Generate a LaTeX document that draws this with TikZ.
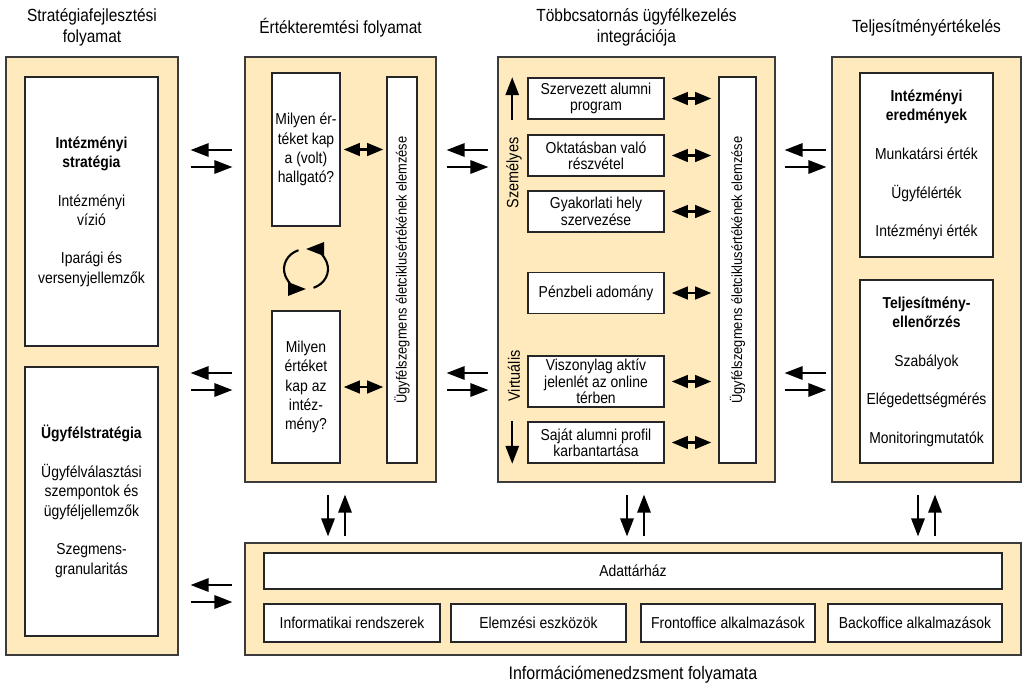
\documentclass[tikz,border=0pt]{standalone}
\usepackage{fontspec}
\setmainfont{Liberation Sans}[FakeStretch=0.88]
\usetikzlibrary{arrows.meta,positioning}

\definecolor{homok}{RGB}{254,234,188}
\definecolor{keret}{RGB}{60,60,60}

\begin{document}
\begin{tikzpicture}[x=0.03cm,y=-0.03cm,
    every node/.append style={font=\fontsize{13.5}{16.5}\selectfont},
    nagydoboz/.style={draw=keret,fill=homok,line width=1pt},
    doboz/.style={draw=black!85,fill=white,line width=1.3pt,align=center,inner sep=2pt},
    kisdoboz/.style={doboz,minimum width=4.08cm,minimum height=1.23cm,font=\fontsize{13.5}{14}\selectfont},
    alsodoboz/.style={doboz,minimum height=1.14cm},
    cim/.style={align=center,font=\fontsize{15}{18}\selectfont},
    pijl/.style={-{Triangle[length=5.4mm,width=4mm]},line width=1.8pt},
    kettos/.style={{Triangle[length=4.8mm,width=3.8mm]}-{Triangle[length=4.8mm,width=3.8mm]},line width=1.8pt}]
\useasboundingbox (0,0) rectangle (1027,687);

% a nagy keretek
\node[nagydoboz,minimum width=5.16cm,minimum height=17.94cm] (strat) at (92,356) {};
\node[nagydoboz,minimum width=5.73cm,minimum height=12.75cm] (ertek) at (340.5,269.5) {};
\node[nagydoboz,minimum width=8.31cm,minimum height=12.75cm] (csat) at (636.5,269.5) {};
\node[nagydoboz,minimum width=5.67cm,minimum height=12.75cm] (telj) at (926.5,269.5) {};
\node[nagydoboz,minimum width=23.28cm,minimum height=3.36cm] (info) at (633,599) {};

% cimek
\node[cim] (cimstrat) at ([yshift=0.87cm]strat.north) {Stratégiafejlesztési\\folyamat};
\node[cim] (cimertek) at ([yshift=0.87cm]ertek.north) {Értékteremtési folyamat};
\node[cim] (cimcsat) at ([yshift=0.87cm]csat.north) {Többcsatornás ügyfélkezelés\\integrációja};
\node[cim] (cimtelj) at ([yshift=0.87cm]telj.north) {Teljesítményértékelés};
\node[cim,font=\fontsize{15.5}{18}\selectfont] (ciminfo) at ([yshift=-0.56cm]info.south) {Információmenedzsment folyamata};

% strategia
\node[doboz,minimum width=3.99cm,minimum height=8.07cm] (intstrat) at (91.5,211.5)
  {\textbf{Intézményi}\\\textbf{stratégia}\\[16.5pt]Intézményi\\vízió\\[16.5pt]Iparági és\\versenyjellemzők};
\node[doboz,minimum width=3.99cm,minimum height=8.07cm] (ugyfstrat) at (91.5,501.5)
  {\textbf{Ügyfélstratégia}\\[16.5pt]Ügyfélválasztási\\szempontok és\\ügyféljellemzők\\[16.5pt]Szegmens-\\granularitás};

% ertekteremtes
\node[doboz,minimum width=2.04cm,minimum height=4.59cm] (hallg) at (306,149.5) {Milyen ér-\\téket kap\\a (volt)\\hallgató?};
\node[doboz,minimum width=2.04cm,minimum height=4.56cm] (intezm) at (306,387) {Milyen\\értéket\\kap az\\intéz-\\mény?};
\node[doboz,minimum width=0.9cm,minimum height=11.58cm,font=\fontsize{12.5}{15}\selectfont] (bar1) at (402,270)
  {\rotatebox{90}{Ügyfélszegmens életciklusértékének elemzése}};
\coordinate (kor) at (306,269);
\draw[pijl] ([shift={(110:0.66cm and 0.6cm)}]kor) arc[start angle=110,end angle=270,x radius=0.66cm,y radius=0.6cm];
\draw[pijl] ([shift={(-70:0.66cm and 0.6cm)}]kor) arc[start angle=-70,end angle=90,x radius=0.66cm,y radius=0.6cm];
\draw[kettos,shorten <=0.09cm,shorten >=0.09cm] (hallg.east) -- (hallg.east -| bar1.west);
\draw[kettos,shorten <=0.09cm,shorten >=0.09cm] (intezm.east) -- (intezm.east -| bar1.west);

% tobbcsatornas
\node[kisdoboz] (szerv) at (596,98.5) {Szervezett alumni\\program};
\node[kisdoboz] (oktat) at (596,155.5) {Oktatásban való\\részvétel};
\node[kisdoboz] (gyak) at (596,211.5) {Gyakorlati hely\\szervezése};
\node[kisdoboz] (penz) at (596,293) {Pénzbeli adomány};
\node[kisdoboz,minimum height=1.53cm] (virt) at (596,381.5) {Viszonylag aktív\\jelenlét az online\\térben};
\node[kisdoboz] (sajat) at (596,442.5) {Saját alumni profil\\karbantartása};
\node[doboz,minimum width=1.11cm,minimum height=11.58cm,font=\fontsize{12.5}{15}\selectfont] (bar2) at (737.5,270)
  {\rotatebox{90}{Ügyfélszegmens életciklusértékének elemzése}};
\node[rotate=90,font=\fontsize{14}{16}\selectfont] (szemelyes) at (514,173) {Személyes};
\node[rotate=90,font=\fontsize{14}{16}\selectfont] (virtualis) at (514,376) {Virtuális};
\draw[pijl] ([xshift=-0.45cm]szerv.south west) -- ([xshift=-0.45cm]szerv.north west);
\draw[pijl] ([xshift=-0.45cm]sajat.north west) -- ([xshift=-0.45cm]sajat.south west);
\foreach \n in {szerv,oktat,gyak,penz,virt,sajat}
  \draw[kettos,shorten <=0.21cm,shorten >=0.21cm] (\n.east) -- (\n.east -| bar2.west);

% teljesitmeny
\node[doboz,minimum width=3.99cm,minimum height=5.52cm] (eredm) at (926.5,165)
  {\textbf{Intézményi}\\\textbf{eredmények}\\[16.5pt]Munkatársi érték\\[16.5pt]Ügyfélérték\\[16.5pt]Intézményi érték};
\node[doboz,minimum width=3.99cm,minimum height=5.49cm] (ellen) at (926.5,371.5)
  {\textbf{Teljesítmény-}\\\textbf{ellenőrzés}\\[16.5pt]Szabályok\\[16.5pt]Elégedettségmérés\\[16.5pt]Monitoringmutatók};

% informaciomenedzsment
\node[doboz,minimum width=22.14cm,minimum height=1.08cm] (adatt) at (633,571) {Adattárház};
\node[alsodoboz,minimum width=5.28cm] (infr) at (352,623) {Informatikai rendszerek};
\node[alsodoboz,minimum width=5.25cm] (elemz) at (538.5,623) {Elemzési eszközök};
\node[alsodoboz,minimum width=5.22cm] (front) at (728,623) {Frontoffice alkalmazások};
\node[alsodoboz,minimum width=5.22cm] (back) at (915,623) {Backoffice alkalmazások};

% nyilparok a keretek kozott
\foreach \y in {150,373} {
  \draw[pijl,shorten <=0.36cm,shorten >=0.36cm] (ertek.west |- 0,\y) -- (strat.east |- 0,\y);
  \draw[pijl,shorten <=0.36cm,shorten >=0.36cm] (strat.east |- 0,\y+17) -- (ertek.west |- 0,\y+17);
  \draw[pijl,shorten <=0.27cm,shorten >=0.3cm] (csat.west |- 0,\y) -- (ertek.east |- 0,\y);
  \draw[pijl,shorten <=0.3cm,shorten >=0.27cm] (ertek.east |- 0,\y+17) -- (csat.west |- 0,\y+17);
  \draw[pijl,shorten <=0.15cm,shorten >=0.27cm] (telj.west |- 0,\y) -- (csat.east |- 0,\y);
  \draw[pijl,shorten <=0.27cm,shorten >=0.15cm] (csat.east |- 0,\y+17) -- (telj.west |- 0,\y+17);
}
\draw[pijl,shorten <=0.36cm,shorten >=0.36cm] (info.west |- 0,585) -- (strat.east |- 0,585);
\draw[pijl,shorten <=0.36cm,shorten >=0.36cm] (strat.east |- 0,602) -- (info.west |- 0,602);

% fuggoleges nyilparok
\foreach \k/\x in {ertek/328,csat/627,telj/918} {
  \draw[pijl,shorten <=0.36cm,shorten >=0.18cm] (\k.south -| \x,0) -- (info.north -| \x,0);
  \draw[pijl,shorten <=0.18cm,shorten >=0.36cm] (info.north -| \x+17,0) -- (\k.south -| \x+17,0);
}
\end{tikzpicture}
\end{document}
